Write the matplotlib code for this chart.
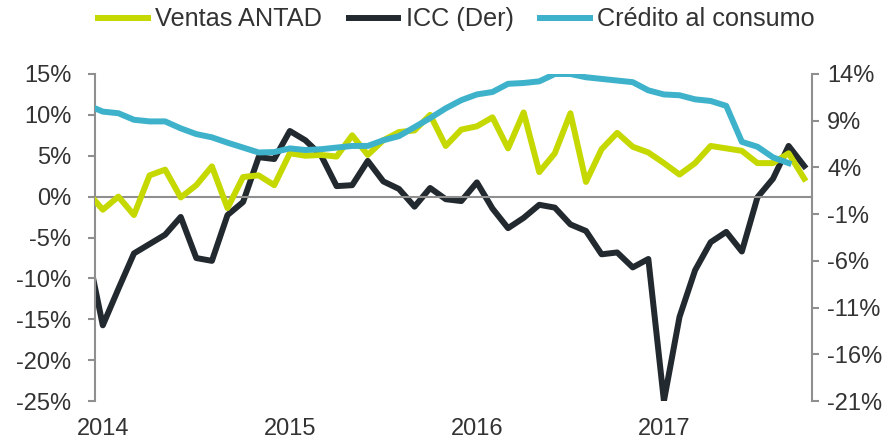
import numpy as np
import matplotlib
matplotlib.use("Agg")
import matplotlib.pyplot as plt

plt.rcParams['font.family'] = ['Liberation Sans', 'DejaVu Sans']

# Monthly data, Dec 2013 .. Oct 2017 (first point is clipped at the left edge)
months = np.arange(-1, 46)  # month index, 0 = Jan 2014

ventas_antad = [0.6,
    -1.6, 0.0, -2.25, 2.6, 3.3, -0.1, 1.4, 3.7, -1.4, 2.4, 2.6, 1.4,
    5.3, 5.0, 5.1, 4.9, 7.5, 5.1, 6.9, 7.9, 8.1, 10.0, 6.2, 8.2,
    8.6, 9.7, 5.9, 10.3, 3.0, 5.3, 10.2, 1.8, 5.8, 7.8, 6.1, 5.4,
    4.1, 2.7, 4.1, 6.2, 5.9, 5.6, 4.1, 4.1, 5.3, 2.2]

icc = [-4.8,
    -12.9, -9.0, -5.2, -4.2, -3.2, -1.3, -5.7, -6.0, -1.1, 0.3, 5.1, 4.9,
    7.9, 6.9, 5.3, 2.0, 2.1, 4.7, 2.5, 1.7, -0.2, 1.8, 0.6, 0.4,
    2.4, -0.4, -2.5, -1.4, 0.0, -0.3, -2.1, -2.8, -5.3, -5.1, -6.7, -5.8,
    -21.0, -12.0, -7.0, -4.0, -2.9, -5.0, 0.8, 2.8, 6.3, 4.15]

credito = [11.2,
    10.4, 10.2, 9.4, 9.2, 9.2, 8.35, 7.65, 7.25, 6.6, 6.0, 5.4, 5.45,
    5.9, 5.7, 5.8, 6.0, 6.2, 6.2, 6.9, 7.4, 8.5, 9.6, 10.8, 11.8,
    12.5, 12.8, 13.8, 13.9, 14.1, 15.0, 15.0, 14.6, 14.4, 14.2, 14.0, 13.0,
    12.5, 12.4, 11.9, 11.7, 11.1, 6.7, 6.1, 4.8, 4.1, np.nan]

years = ['2014', '2015', '2016', '2017']
left_ticks = [-25, -20, -15, -10, -5, 0, 5, 10, 15]
right_ticks = [-21, -16, -11, -6, -1, 4, 9, 14]

c_lime = '#C5D800'
c_dark = '#22292F'
c_cyan = '#3DB2CA'
c_grey = '#8F8F8F'
c_text = '#333333'
FS = 17
FS_LEG = 18.2

x = months + 0.5

fig = plt.figure(figsize=(8.91, 4.40), dpi=100)
ax = fig.add_axes([95/891, 39/440, (812-95)/891, (401-74)/440])
ax2 = ax.twinx()

lw = 4.3
l1, = ax.plot(x, ventas_antad, color=c_lime, lw=lw, label='Ventas ANTAD', zorder=3)
l2, = ax2.plot(x, icc, color=c_dark, lw=lw, label='ICC (Der)', zorder=3)
l3, = ax.plot(x, credito, color=c_cyan, lw=lw, label='Crédito al consumo', zorder=4)

ax.set_zorder(ax2.get_zorder() + 1)
ax.patch.set_visible(False)

ax.set_xlim(0, 46)
ax.set_ylim(-25, 15)
ax2.set_ylim(-21, 14)

ax.set_yticks(left_ticks)
ax.set_yticklabels([f'{t}%' for t in left_ticks])
ax2.set_yticks(right_ticks)
ax2.set_yticklabels([f'{t}%' for t in right_ticks])

for a in (ax, ax2):
    a.spines['top'].set_visible(False)
    a.spines['bottom'].set_visible(False)
ax.spines['right'].set_visible(False)
ax2.spines['left'].set_visible(False)
ax.spines['left'].set_color(c_grey)
ax.spines['left'].set_linewidth(1.5)
ax2.spines['right'].set_color(c_grey)
ax2.spines['right'].set_linewidth(1.5)

ax.spines['bottom'].set_visible(True)
ax.spines['bottom'].set_position(('data', 0))
ax.spines['bottom'].set_color(c_grey)
ax.spines['bottom'].set_linewidth(1.5)
ax.set_xticks([0, 12, 24, 36])
ax.set_xticklabels([])
ax.tick_params(axis='x', direction='out', length=5, width=1.5, color=c_grey)
ax2.set_xticks([])

ax.tick_params(axis='y', direction='out', length=5, width=1.5, color=c_grey,
               labelsize=FS, labelcolor=c_text, pad=12)
ax2.tick_params(axis='y', direction='out', length=5, width=1.5, color=c_grey,
                labelsize=FS, labelcolor=c_text, pad=6)

for i, yr in enumerate(years):
    ax.text(i * 12 + 0.5, -0.085, yr, transform=ax.get_xaxis_transform(),
            ha='center', va='center', fontsize=FS, color=c_text)

fig.legend(handles=[l1, l2, l3], loc='center', bbox_to_anchor=(0.5123, 0.956),
           ncol=3, frameon=False, fontsize=FS_LEG, handlelength=1.97,
           handletextpad=0.28, columnspacing=1.06, labelcolor=c_text)

fig.savefig('out.png', dpi=100)
